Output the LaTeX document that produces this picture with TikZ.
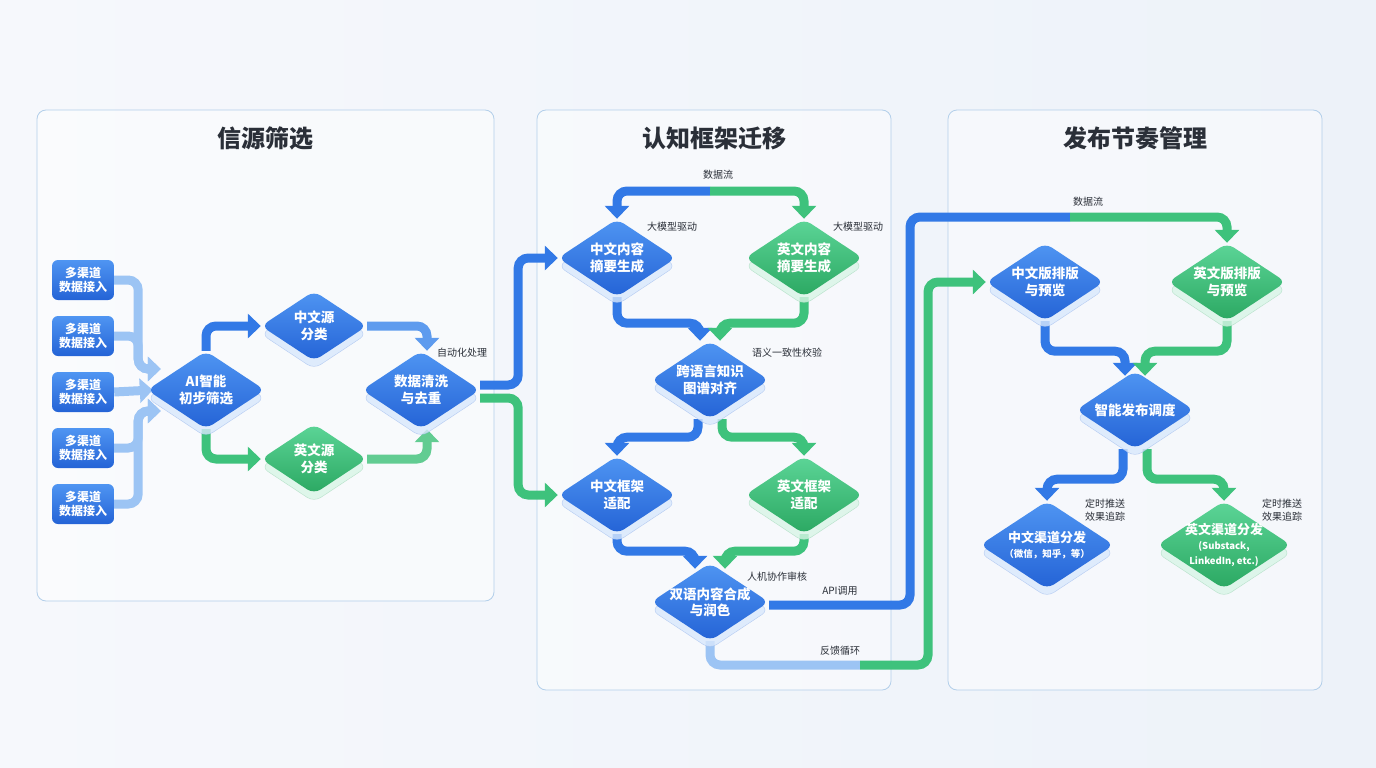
\documentclass[tikz,border=0pt]{standalone}
\usepackage{fontspec}
\setmainfont{Noto Sans CJK SC}
\usetikzlibrary{shapes.geometric, arrows.meta, shadows, positioning}

\definecolor{bgleft}{HTML}{F6F8FC}
\definecolor{bgright}{HTML}{EDF2F9}
\definecolor{panelline}{HTML}{B3CFEA}
\definecolor{bluetop}{HTML}{4F95F2}
\definecolor{bluebot}{HTML}{2463D6}
\definecolor{greentop}{HTML}{5CD597}
\definecolor{greenbot}{HTML}{2BA862}
\definecolor{flowblue}{HTML}{3279E6}
\definecolor{flowgreen}{HTML}{3EC27C}
\definecolor{flowpale}{HTML}{9CC4F4}
\definecolor{flowlight}{HTML}{5E9BEE}
\definecolor{flowmint}{HTML}{62CC92}
\definecolor{labeltext}{HTML}{2A2F38}

\pgfdeclarelayer{back}
\pgfdeclarelayer{bg}
\pgfsetlayers{back,bg,main}

\newcommand{\subtxt}[1]{{\fontsize{9.5}{11}\selectfont #1}}

\tikzset{
    panel/.style={draw=panelline, line width=0.8pt, fill=white, fill opacity=0.45, rounded corners=9pt},
    paneltitle/.style={font=\fontsize{24}{28}\selectfont\bfseries, text=labeltext},
    inbox/.style={rectangle, rounded corners=6pt, minimum width=62pt, minimum height=40pt,
        top color=bluetop, bottom color=bluebot, text=white, align=center, inner sep=1pt,
        font=\fontsize{12}{14.5}\selectfont\bfseries},
    stage/.style={diamond, aspect=1.5, rounded corners=8pt, minimum width=118pt, minimum height=78pt,
        inner sep=-14pt, text=white, align=center, font=\fontsize{13.5}{16.5}\selectfont\bfseries},
    bluestage/.style={stage, top color=bluetop, bottom color=bluebot,
        drop shadow={shadow xshift=0pt, shadow yshift=-8pt, fill=bluetop!22, draw=bluebot!40, opacity=0.8}},
    greenstage/.style={stage, top color=greentop, bottom color=greenbot,
        drop shadow={shadow xshift=0pt, shadow yshift=-8pt, fill=greentop!24, draw=greenbot!40, opacity=0.8}},
    smallstage/.style={minimum width=106pt, minimum height=70pt},
    widestage/.style={minimum width=134pt, minimum height=88pt, inner sep=-18pt,
        font=\fontsize{13}{15}\selectfont\bfseries},
    flowlabel/.style={font=\fontsize{10}{12.5}\selectfont, text=labeltext, align=left, inner sep=1pt},
    flow/.style={line width=9pt, rounded corners=10pt, -{Triangle[length=13pt, width=24pt]}},
    blueflow/.style={flow, draw=flowblue},
    greenflow/.style={flow, draw=flowgreen},
    paleflow/.style={flow, draw=flowpale},
}

\begin{document}
\begin{tikzpicture}[x=1pt, y=-1pt]
    \begin{pgfonlayer}{back}
        % background
        \shade[left color=bgleft, right color=bgright] (0,0) rectangle (1376,768);
        % the three stages
        \draw[panel] (37,110) rectangle (494,601);
        \draw[panel] (537,110) rectangle (891,690);
        \draw[panel] (948,110) rectangle (1322,690);
    \end{pgfonlayer}
    \node[paneltitle] (t1) at (265,138) {信源筛选};
    \node[paneltitle] (t2) at (714,138) {认知框架迁移};
    \node[paneltitle] (t3) at (1135,138) {发布节奏管理};

    % source screening
    \foreach \i/\y in {1/280, 2/336, 3/392, 4/448, 5/504}
        \node[inbox] (in\i) at (83,\y) {多渠道\\数据接入};
    \node[bluestage] (ai) at (206,390) {AI智能\\初步筛选};
    \node[bluestage, smallstage] (zy) at (314,326) {中文源\\分类};
    \node[greenstage, smallstage] (ey) at (314,459) {英文源\\分类};
    \node[bluestage] (cl) at (421,390) {数据清洗\\与去重};

    % framework transfer
    \node[bluestage] (zs) at (617,258) {中文内容\\摘要生成};
    \node[greenstage] (es) at (804,258) {英文内容\\摘要生成};
    \node[bluestage] (kg) at (710,380) {跨语言知识\\图谱对齐};
    \node[bluestage] (zk) at (617,495) {中文框架\\适配};
    \node[greenstage] (ek) at (804,495) {英文框架\\适配};
    \node[bluestage] (sy) at (710,602) {双语内容合成\\与润色};

    % publishing rhythm
    \node[bluestage] (zp) at (1045,282) {中文版排版\\与预览};
    \node[greenstage] (ep) at (1227,282) {英文版排版\\与预览};
    \node[bluestage] (zn) at (1135,410) {智能发布调度};
    \node[bluestage, widestage] (zc) at (1047,545) {中文渠道分发\\\subtxt{（微信，知乎，等）}};
    \node[greenstage, widestage] (ec) at (1224,545) {英文渠道分发\\\subtxt{(Substack,}\\\subtxt{LinkedIn, etc.)}};

    % labels
    \node[flowlabel] (l1) at (462,353) {自动化处理};
    \node[flowlabel] (l2) at (718,175) {数据流};
    \node[flowlabel] (l3) at (672,227) {大模型驱动};
    \node[flowlabel] (l4) at (858,227) {大模型驱动};
    \node[flowlabel] (l5) at (787,353) {语义一致性校验};
    \node[flowlabel] (l6) at (777,577) {人机协作审核};
    \node[flowlabel] (l7) at (840,591) {API调用};
    \node[flowlabel] (l8) at (840,651) {反馈循环};
    \node[flowlabel] (l9) at (1088,202) {数据流};
    \node[flowlabel] (l10) at (1105,510) {定时推送\\效果追踪};
    \node[flowlabel] (l11) at (1282,510) {定时推送\\效果追踪};

    \coordinate (topjoin) at (710,191);
    \coordinate (apicorner) at (910,217);
    \coordinate (apijoin) at (1070,217);
    \coordinate (fbjoin) at (860,665);
    \coordinate (fbcorner) at (928,665);

    \begin{pgfonlayer}{bg}
        % inputs
        \draw[paleflow] (in1.east) -- ++(24,0) |- ([xshift=14pt, yshift=21pt]ai.west);
        \draw[paleflow] (in2.east) -- ++(24,0) |- ([xshift=14pt, yshift=21pt]ai.west);
        \draw[paleflow] (in3.east) -- ([xshift=6pt]ai.west);
        \draw[paleflow] (in4.east) -- ++(24,0) |- ([xshift=14pt, yshift=-21pt]ai.west);
        \draw[paleflow] (in5.east) -- ++(24,0) |- ([xshift=14pt, yshift=-21pt]ai.west);

        \draw[blueflow] (ai.north) |- (zy.west);
        \draw[greenflow] (ai.south) |- (ey.west);
        \draw[blueflow, draw=flowlight] (zy.east) -| ([xshift=6pt]cl.north);
        \draw[greenflow, draw=flowmint] (ey.east) -| ([xshift=6pt]cl.south);
        \draw[blueflow] ([yshift=5pt]cl.east) -- ++(38,0) |- (zs.west);
        \draw[greenflow] ([yshift=-8pt]cl.east) -- ++(38,0) |- (zk.west);

        % middle stage
        \draw[blueflow] (topjoin) -| (zs.north);
        \draw[greenflow] (topjoin) -| (es.north);
        \draw[blueflow] (zs.south) -- ++(0,26) -| ([xshift=-10pt]kg.north);
        \draw[greenflow] (es.south) -- ++(0,26) -| ([xshift=10pt]kg.north);
        \draw[blueflow] ([xshift=-12pt]kg.south) -- ++(0,18) -| (zk.north);
        \draw[greenflow] ([xshift=12pt]kg.south) -- ++(0,18) -| (ek.north);
        \draw[blueflow] (zk.south) -- ++(0,17) -| ([xshift=-15pt, yshift=-6pt]sy.north);
        \draw[greenflow] (ek.south) -- ++(0,17) -| ([xshift=15pt, yshift=-6pt]sy.north);

        % to publishing
        \draw[blueflow, -] ([yshift=-3pt]sy.east) -| (apicorner) -- (apijoin);
        \draw[greenflow] (apijoin) -| (ep.north);
        \draw[paleflow, -] (sy.south) |- (fbjoin);
        \draw[greenflow] (fbjoin) -- (fbcorner) |- (zp.west);

        % right stage
        \draw[blueflow] (zp.south) -- ++(0,30) -| ([xshift=-10pt, yshift=-5pt]zn.north);
        \draw[greenflow] (ep.south) -- ++(0,30) -| ([xshift=10pt, yshift=-5pt]zn.north);
        \draw[blueflow] ([xshift=-12pt]zn.south) -- ++(0,30) -| (zc.north);
        \draw[greenflow] ([xshift=12pt]zn.south) -- ++(0,30) -| (ec.north);
    \end{pgfonlayer}
\end{tikzpicture}
\end{document}
